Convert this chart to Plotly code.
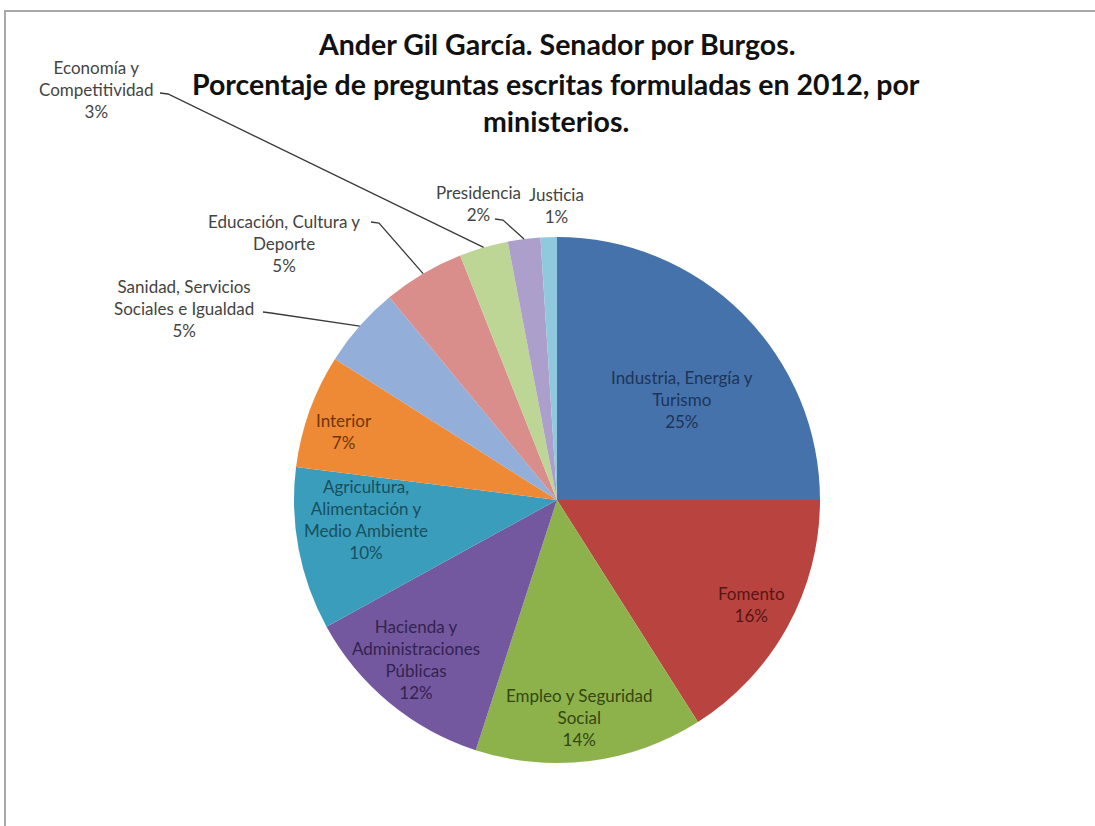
import math
import plotly.graph_objects as go

# ---- data ----
ministerios = [
    "Industria, Energía y<br>Turismo",
    "Fomento",
    "Empleo y Seguridad<br>Social",
    "Hacienda y<br>Administraciones<br>Públicas",
    "Agricultura,<br>Alimentación y<br>Medio Ambiente",
    "Interior",
    "Sanidad, Servicios<br>Sociales e Igualdad",
    "Educación, Cultura y<br>Deporte",
    "Economía y<br>Competitividad",
    "Presidencia",
    "Justicia",
]
porcentajes = [25, 16, 14, 12, 10, 7, 5, 5, 3, 2, 1]

slice_colors = ["#4672AB", "#B9433F", "#8DB24C", "#7358A0", "#3A9DBB", "#EE8A35",
                "#93AED9", "#D98E8C", "#BDD595", "#AC9FCB", "#90C9DD"]
text_colors = ["#1C3558", "#561614", "#34470F", "#33234F", "#17505F", "#6E3608",
               "#444444", "#444444", "#444444", "#444444", "#444444"]

# ---- geometry (pixels) ----
W, H = 1095, 826
CX, CY, R = 557, 500, 263

def px(x):
    return x / W

def py(y):
    return 1 - y / H

# cumulative mid angles (deg, clockwise from 12 o'clock)
total = sum(porcentajes)
mids = []
acc = 0
for v in porcentajes:
    mids.append((acc + v / 2) / total * 360)
    acc += v

def polar(angle_deg, radius):
    a = math.radians(angle_deg)
    return CX + radius * math.sin(a), CY - radius * math.cos(a)

# inside label placement: (radius factor, angle nudge)
inside_place = {0: (0.61, 6.3), 1: (0.84, -0.5), 2: (0.83, 1.2),
                3: (0.81, 2.0), 4: (0.73, 5.0), 5: (0.85, -2.0)}
# outside label placement: center px, leader start px (or None)
outside_place = {
    6: ((184, 308), (263, 312)),
    7: ((284, 244), (371, 222)),
    8: ((96, 89), (160, 93)),
    9: ((478, 203), (495, 219)),
    10: ((556, 206), None),
}

fig = go.Figure()
fig.add_trace(go.Pie(
    labels=[m.replace("<br>", " ") for m in ministerios],
    values=porcentajes,
    sort=False,
    direction="clockwise",
    rotation=0,
    marker=dict(colors=slice_colors, line=dict(width=0)),
    textinfo="none",
    hoverinfo="label+percent",
    showlegend=False,
    domain=dict(x=[px(CX - R), px(CX + R)], y=[py(CY + R), py(CY - R)]),
))

annotations = []
shapes = []
label_font = dict(family="Lato, Carlito, sans-serif", size=17)

for i, (name, val) in enumerate(zip(ministerios, porcentajes)):
    text = f"{name}<br>{val}%"
    if i in inside_place:
        f, nudge = inside_place[i]
        x, y = polar(mids[i] + nudge, R * f)
    else:
        (x, y), start = outside_place[i]
        if start is not None:
            rx, ry = polar(mids[i], R)
            sx, sy = start
            path = (f"M {px(sx)} {py(sy)} L {px(sx + 8)} {py(sy + 1)} "
                    f"L {px(rx)} {py(ry)}")
            shapes.append(dict(type="path", path=path, xref="paper", yref="paper",
                               line=dict(color="#3a3a3a", width=1.3)))
    annotations.append(dict(x=px(x), y=py(y), xref="paper", yref="paper",
                            text=text, showarrow=False, xanchor="center",
                            yanchor="middle", align="center",
                            font=dict(label_font, color=text_colors[i])))

# title lines
title_lines = ["Ander Gil García. Senador por Burgos.",
               "Porcentaje de preguntas escritas formuladas en 2012, por",
               "ministerios."]
title_y = [44, 84, 121]
for t, y in zip(title_lines, title_y):
    annotations.append(dict(x=px(556), y=py(y), xref="paper", yref="paper",
                            text=f"<b>{t}</b>", showarrow=False, xanchor="center",
                            yanchor="middle",
                            font=dict(family="Lato, sans-serif", size=28.5, color="#111111")))

# chart frame
shapes.append(dict(type="rect", xref="paper", yref="paper",
                   x0=px(5), x1=px(1120), y0=py(11), y1=py(860),
                   line=dict(color="#A8A8A8", width=2), fillcolor="rgba(0,0,0,0)",
                   layer="below"))

fig.update_layout(
    width=W, height=H,
    margin=dict(l=0, r=0, t=0, b=0),
    paper_bgcolor="white",
    plot_bgcolor="white",
    annotations=annotations,
    shapes=shapes,
)

fig.write_html("out.html", config={"displayModeBar": False},
               post_script="document.body.style.margin='0';document.body.style.overflow='hidden';")
